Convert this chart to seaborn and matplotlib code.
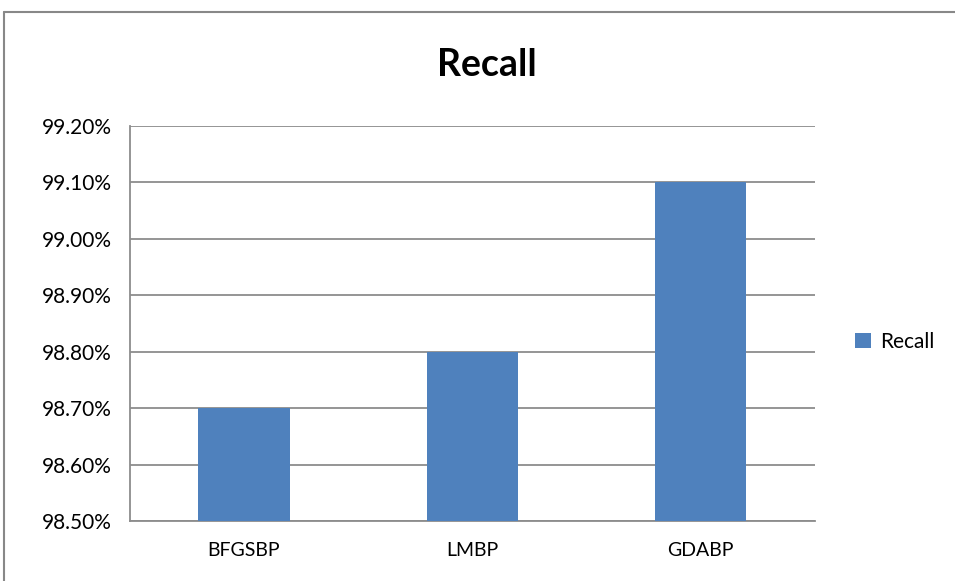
import matplotlib
matplotlib.use("Agg")
import matplotlib.pyplot as plt
import seaborn as sns
import pandas as pd
from matplotlib.ticker import FixedLocator, PercentFormatter, MultipleLocator
from matplotlib.lines import Line2D

methods = ["BFGSBP", "LMBP", "GDABP"]
recall = [0.9870, 0.9880, 0.9910]
series_name = "Recall"

df = pd.DataFrame({"method": methods, "recall": recall, "series": series_name})

sns.set_style("white")
plt.rcParams["font.family"] = ["Lato", "DejaVu Sans"]
plt.rcParams["text.color"] = "black"
plt.rcParams["xtick.color"] = "black"
plt.rcParams["ytick.color"] = "black"

GRAY = "#8c8c8c"
BLUE = "#4f81bd"

fig = plt.figure(figsize=(9.55, 5.81), dpi=100)
ax = fig.add_axes([0.136, 0.1033, 0.717, 0.680])

sns.barplot(data=df, x="method", y="recall", hue="series", palette=[BLUE],
            width=0.40, saturation=1, ax=ax, zorder=3, edgecolor="none", linewidth=0)

ax.set_ylim(0.985, 0.992)
ax.set_xlim(-0.5, 2.5)
ax.yaxis.set_major_locator(MultipleLocator(0.001))
ax.yaxis.set_major_formatter(PercentFormatter(1.0, decimals=2))
ax.yaxis.grid(True, color=GRAY, linewidth=1.3, zorder=0)
ax.set_axisbelow(True)

ax.xaxis.set_minor_locator(FixedLocator([-0.5, 0.5, 1.5, 2.5]))
ax.tick_params(axis="x", which="major", length=0, labelsize=14, pad=15,
               labelcolor="black")
ax.tick_params(axis="x", which="minor", length=6, width=1.3, color=GRAY, direction="out")
ax.tick_params(axis="y", which="major", length=7, width=1.3, color=GRAY,
               direction="out", labelsize=15, pad=6, labelcolor="black")
ax.set_xlabel("")
ax.set_ylabel("")

for side in ["top", "right"]:
    ax.spines[side].set_visible(False)
for side in ["left", "bottom"]:
    ax.spines[side].set_color(GRAY)
    ax.spines[side].set_linewidth(1.3)

leg = ax.legend(loc="center left", bbox_to_anchor=(855 / 955, 1 - 342 / 581),
                bbox_transform=fig.transFigure, frameon=False,
                fontsize=15, handlelength=0.75, handleheight=0.75, handletextpad=0.45,
                borderaxespad=0, borderpad=0)
for t in leg.get_texts():
    t.set_color("black")

fig.text(0.51, 0.888, "Recall", ha="center", va="center", fontsize=27,
         fontweight="bold", color="black")

# chart frame, cut off at the right and bottom edges
fig.add_artist(Line2D([0.0047, 0.0047], [0.0, 0.979], color="#888888", linewidth=1.5,
                      transform=fig.transFigure))
fig.add_artist(Line2D([0.0047, 1.0], [0.979, 0.979], color="#888888", linewidth=1.5,
                      transform=fig.transFigure))

fig.savefig("out.png", dpi=100)
